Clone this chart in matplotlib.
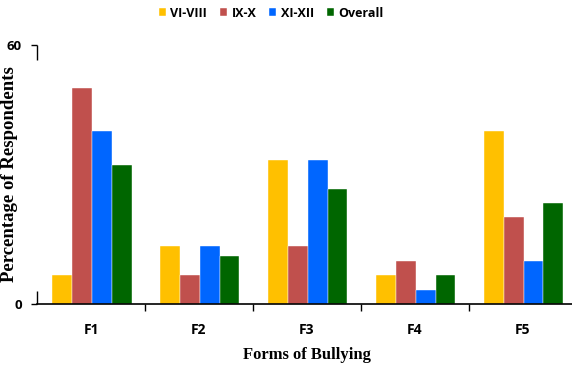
import matplotlib.pyplot as plt
import numpy as np

forms = ["F1", "F2", "F3", "F4", "F5"]
groups = ["VI-VIII", "IX-X", "XI-XII", "Overall"]
vi_viii = [6.7, 13.3, 33.3, 6.7, 40.0]
ix_x = [50.0, 6.7, 13.3, 10.0, 20.0]
xi_xii = [40.0, 13.3, 33.3, 3.3, 10.0]
overall = [32.2, 11.1, 26.7, 6.7, 23.3]
colors = ["#FFC000", "#C0504D", "#0066FF", "#006600"]

fig = plt.figure(figsize=(5.72, 3.67), dpi=100)
ax = fig.add_axes([0.0647, 0.1717, 0.944, 0.707])

x = np.arange(len(forms))
w = 0.185
for i, (vals, lab) in enumerate(zip([vi_viii, ix_x, xi_xii, overall], groups)):
    ax.bar(x + (i - 1.5) * w + 0.005, vals, w, color=colors[i], label=lab,
           edgecolor="white", linewidth=0.3)

ax.set_xlim(-0.5, 4.5)
ax.set_ylim(0, 60)

# category boundaries get the tick marks, names sit in between
ax.set_xticks(np.arange(0.5, 4.5, 1))
ax.set_xticklabels([])
ax.set_xticks(x, minor=True)
ax.set_xticklabels(forms, minor=True, fontsize=10, fontweight="bold",
                   family="Open Sans")
ax.tick_params(axis="x", which="major", direction="out", length=5, width=1)
ax.tick_params(axis="x", which="minor", length=0, pad=14)

ax.set_yticks([0, 60])
ax.set_yticklabels(["0", "60"], fontsize=9.5, fontweight="bold", family="Open Sans")
ax.tick_params(axis="y", direction="out", length=4, width=1, pad=7)

for s in ["top", "right", "left"]:
    ax.spines[s].set_visible(False)
ax.spines["bottom"].set_linewidth(1.2)
# y axis line is broken in the middle, only short stubs at both ends
ax.vlines([0, 0], [0, 56.5], [3.0, 60], transform=ax.get_yaxis_transform(),
          color="black", linewidth=1, clip_on=False)

ax.set_xlabel("Forms of Bullying", fontsize=12, fontweight="bold",
              family="Liberation Serif", labelpad=7)
ax.set_ylabel("Percentage of Respondents", fontsize=13.5, fontweight="bold",
              family="Liberation Serif")
ax.yaxis.set_label_coords(-0.036, 0.5)

fig.legend(loc="upper center", bbox_to_anchor=(0.474, 1.012), ncol=4, frameon=False,
           handlelength=0.56, handleheight=0.6, handletextpad=0.35, columnspacing=1.04,
           prop={"family": "Open Sans", "weight": "bold", "size": 9})

fig.savefig("out.png", dpi=100)
